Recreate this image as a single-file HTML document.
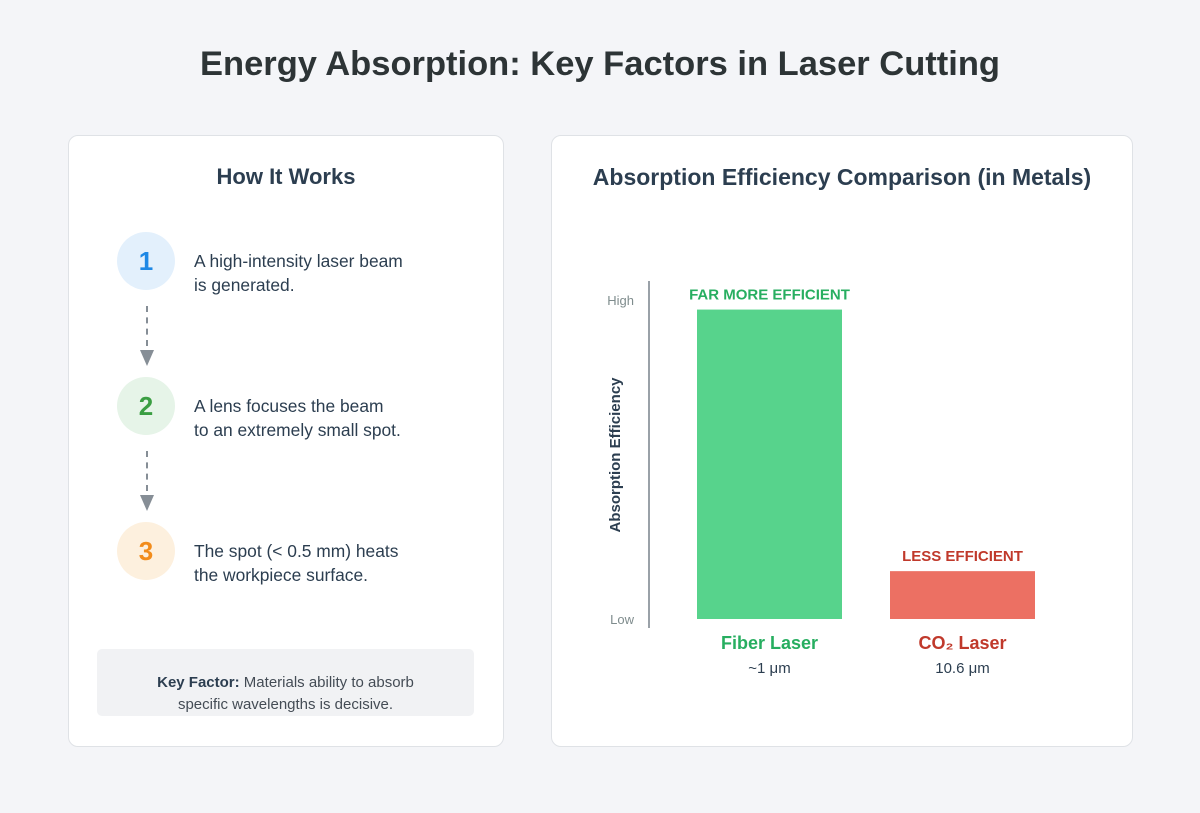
<!DOCTYPE html>
<html><head><meta charset="utf-8"><style>
body{margin:0;width:1200px;height:813px;background:#f4f5f8;font-family:"Liberation Sans",sans-serif;position:relative;overflow:hidden;color:#2c3e50}
.abs{position:absolute}
.card{position:absolute;background:#fff;border:1px solid #dfe2e6;border-radius:10px;top:135px;height:610px}
h1{position:absolute;margin:0;top:45px;left:0;width:1200px;text-align:center;font-size:34.5px;font-weight:bold;color:#2d3436}
.h2{position:absolute;width:100%;text-align:center;top:28px;font-size:22px;font-weight:bold;color:#2c3e50}
.circ{position:absolute;width:58px;height:58px;border-radius:50%;left:48px;text-align:center;line-height:58px;font-size:26px;font-weight:bold}
.step{position:absolute;left:125px;font-size:17.4px;line-height:24px;color:#2c3e50}
.dash{position:absolute;left:77px;width:0;border-left:2px dashed #868e96;height:40px}
.arr{position:absolute;left:71px;width:0;height:0;border-left:7px solid transparent;border-right:7px solid transparent;border-top:16px solid #868e96}
</style></head><body>
<h1>Energy Absorption: Key Factors in Laser Cutting</h1>
<div class="card" style="left:68px;width:434px">
 <div class="h2">How It Works</div>
 <div class="circ" style="top:96px;background:#e3f0fc;color:#1e88e5">1</div>
 <div class="step" style="top:113px">A high-intensity laser beam<br>is generated.</div>
 <div class="dash" style="top:170px"></div>
 <div class="arr" style="top:214px"></div>
 <div class="circ" style="top:241px;background:#e6f4e8;color:#3a9e42">2</div>
 <div class="step" style="top:258px">A lens focuses the beam<br>to an extremely small spot.</div>
 <div class="dash" style="top:315px"></div>
 <div class="arr" style="top:359px"></div>
 <div class="circ" style="top:386px;background:#fdf0de;color:#f28c1b">3</div>
 <div class="step" style="top:403px">The spot (&lt; 0.5 mm) heats<br>the workpiece surface.</div>
 <div class="abs" style="left:28px;top:513px;width:377px;height:67px;background:#f1f2f4;border-radius:5px;text-align:center;font-size:15px;line-height:22px;color:#444c55;padding-top:23px;box-sizing:border-box"><b style="color:#2c3e50">Key Factor:</b> Materials ability to absorb<br>specific wavelengths is decisive.</div>
</div>
<div class="card" style="left:551px;width:580px">
 <div class="h2" style="font-size:23px">Absorption Efficiency Comparison (in Metals)</div>
</div>
<svg class="abs" style="left:0;top:0" width="1200" height="813">
<g id="g"></g></svg>
<script>
const categories=["Fiber Laser","CO₂ Laser"];
const values=[97,15];
const wavelengths=["~1 μm","10.6 μm"];
const notes=["FAR MORE EFFICIENT","LESS EFFICIENT"];
const tickLabels=["Low","High"];
const tickValues=[0,100];
const fills=["#57d38c","#ec7063"];
const textColors=["#27ae60","#c0392b"];
const NS="http://www.w3.org/2000/svg";
const g=document.getElementById('g');
const y=v=>619-v*(619-300)/100;
const x=i=>697+i*193;
const bw=145;
function mk(t,a,txt){const e=document.createElementNS(NS,t);for(const k in a)e.setAttribute(k,a[k]);if(txt!=null)e.textContent=txt;g.appendChild(e);return e;}
let ax=mk('line',{x1:649,x2:649,y1:281,y2:628,stroke:'#9aa1a8','stroke-width':2});


tickValues.forEach((v,i)=>{const t=mk('text',{x:634,y:y(v)+5,'text-anchor':'end','font-size':13,fill:'#7f8c8d'},tickLabels[i]);

});
let yt=mk('text',{x:0,y:0,transform:'translate(620,455) rotate(-90)','text-anchor':'middle','font-size':15,'font-weight':'bold',fill:'#2c3e50'},'Absorption Efficiency');


values.forEach((v,i)=>{const cx=x(i)+bw/2;
const r=mk('rect',{x:x(i),y:y(v),width:bw,height:y(0)-y(v),fill:fills[i]});


const n=mk('text',{x:cx,y:y(v)-10,'text-anchor':'middle','font-size':15,'font-weight':'bold',fill:textColors[i]},notes[i]);


const c=mk('text',{x:cx,y:649,'text-anchor':'middle','font-size':18,'font-weight':'bold',fill:textColors[i]},categories[i]);


const w=mk('text',{x:cx,y:673,'text-anchor':'middle','font-size':15,fill:'#2c3e50'},wavelengths[i]);

});
</script>
</body></html>
